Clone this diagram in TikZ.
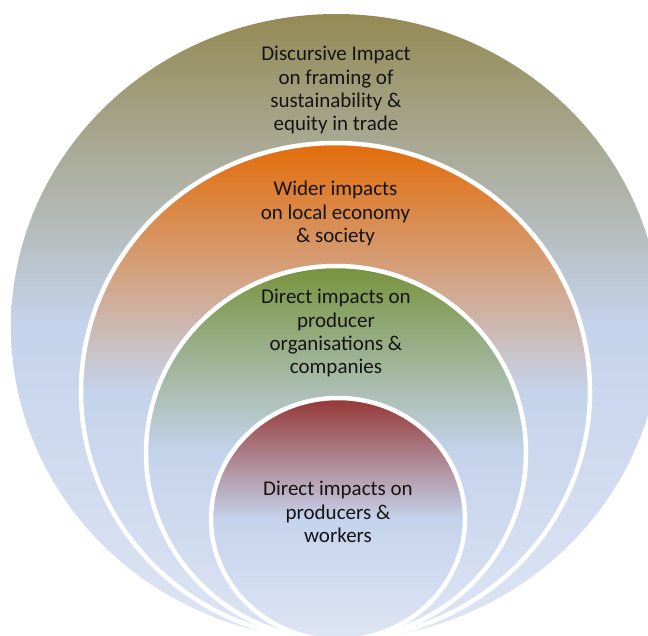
\documentclass[tikz,border=0pt]{standalone}
\usepackage{fontspec}
\setmainfont{Carlito}
\usetikzlibrary{shapes.geometric,positioning}

\definecolor{olivetop}{RGB}{148,138,84}
\definecolor{orangetop}{RGB}{227,108,9}
\definecolor{greentop}{RGB}{119,147,60}
\definecolor{redtop}{RGB}{149,55,52}
\definecolor{skyblue}{RGB}{197,211,236}
\definecolor{paleblue}{RGB}{222,229,243}

\begin{document}
\begin{tikzpicture}[x=1pt,y=-1pt]
		\tikzstyle{ring} = [ellipse, inner sep=0pt, outer sep=0pt, draw=white, line width=4.5pt, top color=#1, bottom color=paleblue, middle color=skyblue]
		\tikzstyle{caption} = [align=center, inner sep=0pt, text=black!92, font=\fontsize{21}{23.4}\selectfont]
		\useasboundingbox (0,0) rectangle (648,635);
		\node (disc) [ring=olivetop, draw=none, minimum width=650pt, minimum height=626pt] at (336,327) {};
		\node (wide) [ring=orangetop, minimum width=509pt, minimum height=497pt] at (335.5,391.5) {};
		\node (org) [ring=greentop, minimum width=380pt, minimum height=374pt] at (336,453) {};
		\node (prod) [ring=redtop, minimum width=254pt, minimum height=242pt] at (338,519) {};
		\node (disct) [caption, below=32pt of disc.north] {Discursive Impact\\on framing of\\sustainability \&\\equity in trade};
		\node (widet) [caption, below=38pt of wide.north] {Wider impacts\\on local economy\\\& society};
		\node (orgt) [caption, below=23pt of org.north] {Direct impacts on\\producer\\organisations \&\\companies};
		\node (prodt) [caption, below=83pt of prod.north] {Direct impacts on\\producers \&\\workers};
	\end{tikzpicture}
\end{document}
